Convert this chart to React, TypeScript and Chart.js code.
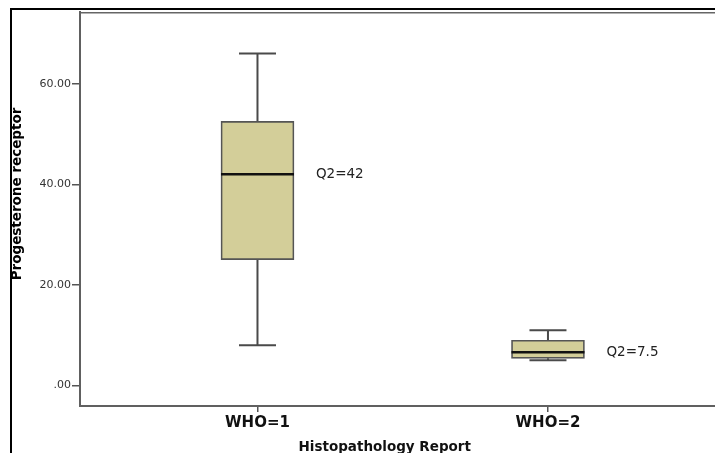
import React, { useEffect, useRef } from 'react';
import { Chart, registerables } from 'chart.js';

Chart.register(...registerables);

const categories = ['WHO=1', 'WHO=2'];
const positions = [1, 2];
const whiskerLow = [8, 5];
const q1 = [25, 5.4];
const median = [42, 6.6];
const q3 = [52.5, 9];
const whiskerHigh = [66, 11];
const q2Labels = ['Q2=42', 'Q2=7.5'];
const yTickValues = [0, 20, 40, 60];
const yTickLabels = ['.00', '20.00', '40.00', '60.00'];
const yTitle = 'Progesterone receptor';
const xTitle = 'Histopathology Report';

const boxPlugin = {
  id: 'boxExtras',
  beforeDraw(chart: any) {
    const ctx = chart.ctx;
    const { left, top, right } = chart.chartArea;
    ctx.save();
    ctx.strokeStyle = '#000';
    ctx.lineWidth = 2;
    ctx.beginPath();
    ctx.moveTo(11, chart.height);
    ctx.lineTo(11, 9);
    ctx.lineTo(chart.width, 9);
    ctx.stroke();
    ctx.strokeStyle = '#666';
    ctx.lineWidth = 1.5;
    ctx.beginPath();
    ctx.moveTo(left - 1, top + 0.75);
    ctx.lineTo(right, top + 0.75);
    ctx.stroke();
    ctx.restore();
  },
  beforeDatasetsDraw(chart: any) {
    const ctx = chart.ctx;
    const meta = chart.getDatasetMeta(0);
    const ys = chart.scales.y;
    ctx.save();
    ctx.strokeStyle = '#4a4a4a';
    ctx.lineWidth = 2;
    meta.data.forEach((el: any, i: number) => {
      const x = el.x;
      const yl = ys.getPixelForValue(whiskerLow[i]);
      const yh = ys.getPixelForValue(whiskerHigh[i]);
      const y1 = ys.getPixelForValue(q1[i]);
      const y3 = ys.getPixelForValue(q3[i]);
      const cap = 18.5;
      ctx.beginPath();
      ctx.moveTo(x, yl);
      ctx.lineTo(x, y1);
      ctx.moveTo(x, y3);
      ctx.lineTo(x, yh);
      ctx.moveTo(x - cap, yl);
      ctx.lineTo(x + cap, yl);
      ctx.moveTo(x - cap, yh);
      ctx.lineTo(x + cap, yh);
      ctx.stroke();
    });
    ctx.restore();
  },
  afterDatasetsDraw(chart: any) {
    const ctx = chart.ctx;
    const meta = chart.getDatasetMeta(0);
    const ys = chart.scales.y;
    ctx.save();
    meta.data.forEach((el: any, i: number) => {
      const ym = ys.getPixelForValue(median[i]);
      const half = el.width / 2;
      ctx.strokeStyle = '#111';
      ctx.lineWidth = 2.5;
      ctx.beginPath();
      ctx.moveTo(el.x - half, ym);
      ctx.lineTo(el.x + half, ym);
      ctx.stroke();
      ctx.fillStyle = '#222';
      ctx.font = '13.5px "DejaVu Sans"';
      ctx.textAlign = 'left';
      ctx.textBaseline = 'middle';
      ctx.fillText(q2Labels[i], el.x + half + 22, ym);
    });
    ctx.restore();
  },
  afterDraw(chart: any) {
    const ctx = chart.ctx;
    ctx.save();
    ctx.fillStyle = '#000';
    ctx.font = 'bold 13.5px "DejaVu Sans"';
    ctx.textAlign = 'center';
    ctx.textBaseline = 'middle';
    ctx.translate(17.5, 194);
    ctx.rotate(-Math.PI / 2);
    ctx.fillText(yTitle, 0, 0);
    ctx.restore();
    ctx.save();
    ctx.fillStyle = '#111';
    ctx.font = 'bold 13.5px "DejaVu Sans"';
    ctx.textAlign = 'center';
    ctx.textBaseline = 'alphabetic';
    ctx.fillText(xTitle, 384.7, 451);
    ctx.restore();
  },
};

export default function App() {
  const ref = useRef<HTMLCanvasElement | null>(null);
  useEffect(() => {
    if (!ref.current) return;
    const chart = new Chart(ref.current, {
      type: 'bar',
      data: {
        datasets: [
          {
            data: positions.map((x, i) => ({ x, y: [q1[i], q3[i]] })) as any,
            backgroundColor: '#d3ce99',
            borderColor: '#555555',
            borderWidth: 1.7,
            borderSkipped: false,
            barThickness: 73,
          },
        ],
      },
      options: {
        animation: false,
        responsive: false,
        events: [],
        layout: { padding: { top: 12, left: 0, right: 0, bottom: 0 } },
        plugins: { legend: { display: false }, tooltip: { enabled: false } },
        scales: {
          x: {
            type: 'linear',
            offset: false,
            min: 0.389,
            max: 2.575,
            afterBuildTicks: (s: any) => {
              s.ticks = positions.map((v) => ({ value: v }));
            },
            afterFit: (s: any) => {
              s.height = 47;
            },
            grid: { offset: false, drawOnChartArea: false, drawTicks: true, tickLength: 6, color: '#555', lineWidth: 1.5 },
            border: { display: true, color: '#606060', width: 2 },
            ticks: {
              autoSkip: false,
              maxRotation: 0,
              padding: 2,
              color: '#111',
              font: { family: 'DejaVu Sans', size: 15, weight: 'bold' },
              callback: (_v: any, i: number) => categories[i],
            },
          },
          y: {
            type: 'linear',
            min: -4.08,
            max: 74.25,
            afterBuildTicks: (s: any) => {
              s.ticks = yTickValues.map((v) => ({ value: v }));
            },
            afterFit: (s: any) => {
              s.width = 80;
            },
            grid: { drawOnChartArea: false, drawTicks: true, tickLength: 8, color: '#555', lineWidth: 1.5 },
            border: { display: true, color: '#606060', width: 2 },
            ticks: {
              autoSkip: false,
              padding: 1,
              color: '#333',
              font: { family: 'DejaVu Sans', size: 11 },
              callback: (_v: any, i: number) => yTickLabels[i],
            },
          },
        },
      },
      plugins: [boxPlugin],
    });
    return () => chart.destroy();
  }, []);
  return (
    <div style={{ position: 'absolute', left: 0, top: 0, width: 715, height: 453, background: '#fff' }}>
      <canvas ref={ref} width={715} height={453} style={{ display: 'block' }} />
    </div>
  );
}
